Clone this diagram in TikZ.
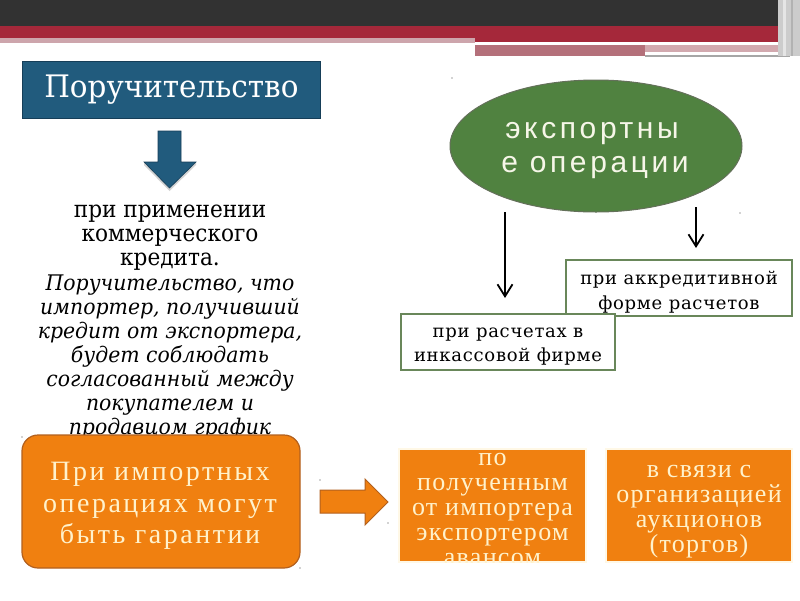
\documentclass[tikz,border=0pt]{standalone}
\usepackage{fontspec}
\usetikzlibrary{shapes.geometric,arrows.meta}
\newfontfamily\dvserif[FakeStretch=0.92]{DejaVu Serif}
\newfontfamily\dvtitle[FakeStretch=0.95]{DejaVu Serif}
\newfontfamily\dvserifsp[LetterSpace=4]{DejaVu Serif}
\newfontfamily\libserif[LetterSpace=9]{Liberation Serif}
\newfontfamily\libserifr[LetterSpace=5]{Liberation Serif}
\newfontfamily\libsans[LetterSpace=12]{Liberation Sans}
\definecolor{hdark}{RGB}{50,50,50}
\definecolor{hred}{RGB}{165,40,58}
\definecolor{hpink}{RGB}{205,165,172}
\definecolor{hmuted}{RGB}{180,112,122}
\definecolor{tblue}{RGB}{33,91,125}
\definecolor{tblueb}{RGB}{22,62,88}
\definecolor{org}{RGB}{240,128,16}
\definecolor{orgb}{RGB}{178,96,30}
\definecolor{cream}{RGB}{255,242,204}
\definecolor{ewhite}{RGB}{246,246,232}
\definecolor{egreen}{RGB}{80,130,64}
\definecolor{egreenb}{RGB}{100,112,90}
\definecolor{bgreen}{RGB}{105,135,90}
\tikzset{
  titlebox/.style={fill=tblue, draw=tblueb, line width=0.8pt, minimum width=298pt, minimum height=57pt, inner sep=0pt,
    text=white, font=\dvtitle\fontsize{31}{36}\selectfont},
  bodyup/.style={inner sep=0pt, anchor=base, font=\dvserif\fontsize{23.5}{27}\selectfont},
  bodyit/.style={inner sep=0pt, anchor=base, font=\dvserif\itshape\fontsize{21.5}{24}\selectfont},
  obox/.style={fill=org, draw=orgb, line width=1.2pt, rounded corners=16pt, minimum width=278pt, minimum height=133pt, inner sep=0pt},
  otext/.style={inner sep=0pt, anchor=base, text=cream, font=\libserif\fontsize{28}{30}\selectfont},
  orect/.style={fill=org, draw=cream!50, line width=1.5pt, inner sep=0pt},
  rtext/.style={inner sep=0pt, anchor=base, text=cream, font=\libserifr\fontsize{26}{30}\selectfont},
  ell/.style={ellipse, fill=egreen, draw=egreenb, line width=1pt, minimum width=292pt, minimum height=132pt, inner sep=0pt},
  etext/.style={inner sep=0pt, anchor=base, text=ewhite, font=\libsans\fontsize{30}{34}\selectfont},
  gbox/.style={fill=white, draw=bgreen, line width=1.8pt, inner sep=0pt},
  gtext/.style={inner sep=0pt, anchor=base, font=\dvserifsp\fontsize{18}{22}\selectfont},
  varrow/.style={line width=2.6pt, -{Straight Barb[length=12pt,width=15pt,line width=1.8pt]}},
  dot/.style={fill=gray!70, draw=none},
}
\begin{document}
\begin{tikzpicture}[x=1pt,y=-1pt]
\useasboundingbox (0,0) rectangle (800,600);
\fill[white] (0,0) rectangle (800,600);
% header
\fill[hdark] (0,0) rectangle (800,26);
\fill[hred] (0,26) rectangle (800,38);
\fill[hpink] (0,38) rectangle (475,43);
\fill[hred] (475,38) rectangle (778,42);
\fill[white] (475,42) rectangle (742,45);
\fill[hmuted] (475,45) rectangle (645,56);
\fill[hmuted!60] (645,45) rectangle (790,52);
\fill[white] (645,52) rectangle (790,55);
\fill[gray!70] (645,55) rectangle (790,57);
\fill[gray!40] (778,0) rectangle (800,56);
\fill[gray!20] (783,0) rectangle (786,56);
\fill[gray!60] (791,0) rectangle (793,56);

% title
\node[titlebox, anchor=north west] (title) at (22,61) {Поручительство};
% down block arrow
\fill[gray!35] (144,165) -- (169.5,191) -- (196,165) -- (196,162) -- (169.5,188) -- (144,162) -- cycle;
\filldraw[fill=tblue, draw=tblueb, line width=0.6pt] (158,131) -- (181,131) -- (181,162) -- (196,162) -- (169.5,188) -- (144,162) -- (158,162) -- cycle;

% body text
\foreach \yy/\tx in {217/{при применении}, 241.5/{коммерческого}, 265.5/{кредита.}} {
  \node[bodyup] (up\yy) at (170,\yy) {\tx};
}
\foreach \yy/\tx in {290/{Поручительство, что}, 314/{импортер, получивший}, 338.5/{кредит от экспортера,}, 362.5/{будет соблюдать}, 386.5/{согласованный между}, 410.5/{покупателем и}, 434.5/{продавцом график}} {
  \node[bodyit, font=\dvserif\itshape\fontsize{21.5}{24}\selectfont\addfontfeature{FakeStretch=0.95}] (it\yy) at (170,\yy) {\tx};
}

% orange rounded box
\node[obox] (imp) at (161,501.5) {};
\node[otext] (imp1) at (160,480) {При импортных};
\node[otext] (imp2) at (160,512) {операциях могут};
\node[otext] (imp3) at (160,543) {быть гарантии};

% right block arrow
\filldraw[fill=org, draw=orgb, line width=1pt] (320,490) -- (365,490) -- (365,479) -- (388,502) -- (365,525) -- (365,513) -- (320,513) -- cycle;

% orange rectangles
\node[orect, minimum width=187pt, minimum height=113pt] (avans) at (492.5,505.5) {};
\begin{scope}
\clip (399,449) rectangle (586,562);
\foreach \yy/\tx in {465/{по}, 490/{полученным}, 515/{от импортера}, 540/{экспортером}, 565/{авансом}} {
  \node[rtext] (av\yy) at (492.5,\yy) {\tx};
}
\end{scope}
\node[orect, minimum width=186pt, minimum height=113pt] (auk) at (699,505.5) {};
\foreach \yy/\tx in {477/{в связи с}, 502/{организацией}, 527/{аукционов}, 552/{(торгов)}} {
  \node[rtext] (au\yy) at (699,\yy) {\tx};
}

% ellipse
\node[ell] (exp) at (596,146) {};
\node[etext] (exp1) at (592,138) {экспортны};
\node[etext] (exp2) at (595,172) {е операции};

% green boxes
\node[gbox, minimum width=226pt, minimum height=56pt] (akk) at (679,288) {};
\node[gtext] (akk1) at (679,284) {при аккредитивной};
\node[gtext] (akk2) at (679,309) {форме расчетов};
\node[gbox, minimum width=214pt, minimum height=56pt] (ink) at (508,342) {};
\node[gtext] (ink1) at (508,337) {при расчетах в};
\node[gtext] (ink2) at (508,361) {инкассовой фирме};

% connectors
\coordinate (a1s) at (505,212);
\coordinate (a1e) at (505,298);
\coordinate (a2s) at (696,207);
\coordinate (a2e) at (696,248);
\draw[varrow] (a1s) -- (a1e);
\draw[varrow] (a2s) -- (a2e);

% small handle dots
\foreach \px/\py in {452/78, 740/213, 22/437, 300/568, 320/480, 388/523} {
  \fill[dot] (\px,\py) circle (0.9);
}
\end{tikzpicture}
\end{document}
